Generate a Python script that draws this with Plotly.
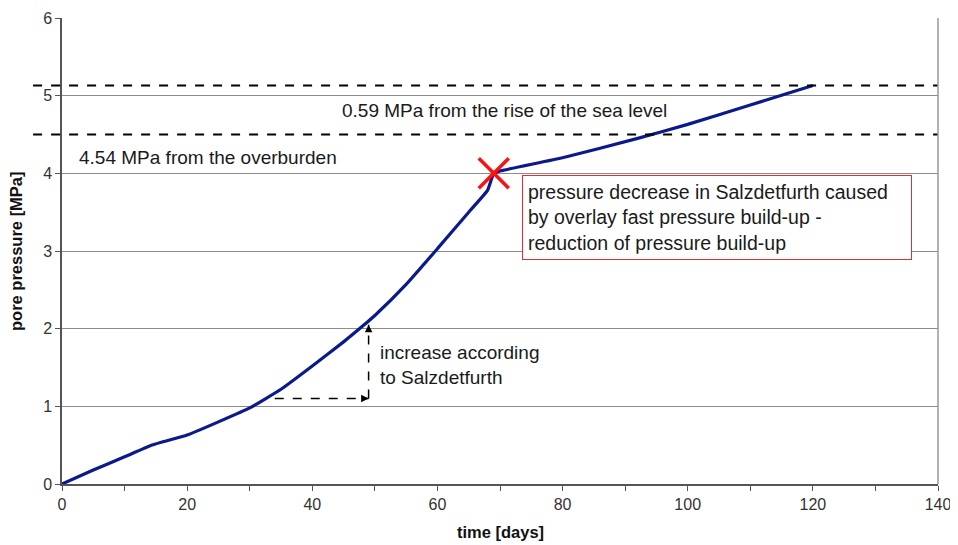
import plotly.graph_objects as go

# Data
time_days = [0, 5, 10, 14, 16, 20, 25, 30, 35, 40, 45, 48, 50, 55, 60, 65, 68, 69, 70, 80, 92, 100, 110, 120]
pore_pressure = [0, 0.18, 0.35, 0.49, 0.54, 0.63, 0.80, 0.98, 1.22, 1.52, 1.83, 2.03, 2.17, 2.57, 3.03, 3.50, 3.78, 4.00, 4.03, 4.20, 4.45, 4.63, 4.88, 5.13]

overburden_level = 4.50
sea_level_rise_level = 5.13
marker_point = (69, 4.0)
arrow_start = (34, 1.1)
arrow_corner = (49, 1.1)
arrow_end = (49, 2.05)

x_ticks = [0, 20, 40, 60, 80, 100, 120, 140]
y_ticks = [0, 1, 2, 3, 4, 5, 6]

FONT = "Liberation Sans, Arial, sans-serif"

fig = go.Figure()

fig.add_trace(go.Scatter(
    x=time_days, y=pore_pressure, mode="lines",
    line=dict(color="#0a1a8c", width=3.2, shape="spline", smoothing=0.4),
    showlegend=False, hoverinfo="skip"))

fig.add_trace(go.Scatter(
    x=[marker_point[0]], y=[marker_point[1]], mode="markers",
    marker=dict(symbol="x-thin", size=30, line=dict(color="#ff1010", width=3.5)),
    showlegend=False, hoverinfo="skip"))

# dashed reference lines (extend slightly left of the plot area)
for lvl in [overburden_level, sea_level_rise_level]:
    fig.add_shape(type="line", xref="paper", yref="y", x0=-0.033, x1=1.0, y0=lvl, y1=lvl,
                  line=dict(color="black", width=2, dash="dash"), layer="above")

# dashed arrow: horizontal then vertical
fig.add_shape(type="line", xref="x", yref="y", x0=arrow_start[0], y0=arrow_start[1],
              x1=arrow_corner[0], y1=arrow_corner[1], line=dict(color="black", width=1.5, dash="dash"))
fig.add_shape(type="line", xref="x", yref="y", x0=arrow_corner[0], y0=arrow_corner[1],
              x1=arrow_end[0], y1=arrow_end[1], line=dict(color="black", width=1.5, dash="dash"))
fig.add_annotation(x=arrow_corner[0], y=arrow_corner[1], ax=arrow_corner[0] - 1, ay=arrow_corner[1],
                   xref="x", yref="y", axref="x", ayref="y", text="", showarrow=True,
                   arrowhead=2, arrowsize=1, arrowwidth=1.5, arrowcolor="black")
fig.add_annotation(x=arrow_end[0], y=arrow_end[1], ax=arrow_end[0], ay=arrow_end[1] - 0.1,
                   xref="x", yref="y", axref="x", ayref="y", text="", showarrow=True,
                   arrowhead=2, arrowsize=1, arrowwidth=1.5, arrowcolor="black")

txt = dict(family=FONT, size=19, color="#1a1a1a")
fig.add_annotation(x=44.4, y=4.81, xref="x", yref="y", text="0.59 MPa from the rise of the sea level",
                   showarrow=False, xanchor="left", yanchor="middle", font=txt)
fig.add_annotation(x=2.4, y=4.2, xref="x", yref="y", text="4.54 MPa from the overburden",
                   showarrow=False, xanchor="left", yanchor="middle", font=txt)
fig.add_annotation(x=50.5, y=1.53, xref="x", yref="y",
                   text="increase according<br>to Salzdetfurth",
                   showarrow=False, xanchor="left", yanchor="middle", align="left", font=txt)
fig.add_annotation(x=73.5, y=3.43, xref="x", yref="y",
                   text="pressure decrease in Salzdetfurth caused<br>by overlay fast pressure build-up -<br>reduction of pressure build-up",
                   showarrow=False, xanchor="left", yanchor="middle", align="left",
                   font=dict(family=FONT, size=19.5, color="#1a1a1a"),
                   width=378, bordercolor="#e03030", borderwidth=1, borderpad=5, bgcolor="white")

# axis titles
fig.add_annotation(x=0.5, y=0, xref="paper", yref="paper", text="<b>time [days]</b>",
                   showarrow=False, xanchor="center", yanchor="middle", yshift=-48,
                   font=dict(family=FONT, size=16.5, color="#111"))
fig.add_annotation(x=0, y=0.5, xref="paper", yref="paper", text="<b>pore pressure [MPa]</b>",
                   showarrow=False, xanchor="center", yanchor="middle", xshift=-46, textangle=-90,
                   font=dict(family=FONT, size=16.5, color="#111"))

# page body has an 8px default margin, so the figure is sized/offset to compensate
fig.update_layout(
    width=950, height=537,
    margin=dict(l=54, r=20, t=10, b=61, autoexpand=False),
    paper_bgcolor="white", plot_bgcolor="white",
    font=dict(family=FONT, size=16, color="#222"),
    xaxis=dict(range=[0, 140], tickvals=x_ticks, ticks="outside", ticklen=5, tickcolor="#555",
               showgrid=False, zeroline=False, showline=True, linecolor="#555", linewidth=1.5,
               automargin=False,
               minor=dict(dtick=10, ticks="outside", ticklen=5, tickcolor="#555", showgrid=False),
               tickfont=dict(family=FONT, size=16, color="#333")),
    yaxis=dict(range=[0, 6], tickvals=y_ticks, ticks="outside", ticklen=5, tickcolor="#555",
               showgrid=True, gridcolor="#8c8c8c", gridwidth=1, zeroline=False,
               showline=True, linecolor="#555", linewidth=1.5, automargin=False,
               tickfont=dict(family=FONT, size=16, color="#333")),
)
# right border line
fig.add_shape(type="line", xref="paper", yref="paper", x0=1, x1=1, y0=0, y1=1,
              line=dict(color="#999", width=1.5))

fig.write_html("out.html")
